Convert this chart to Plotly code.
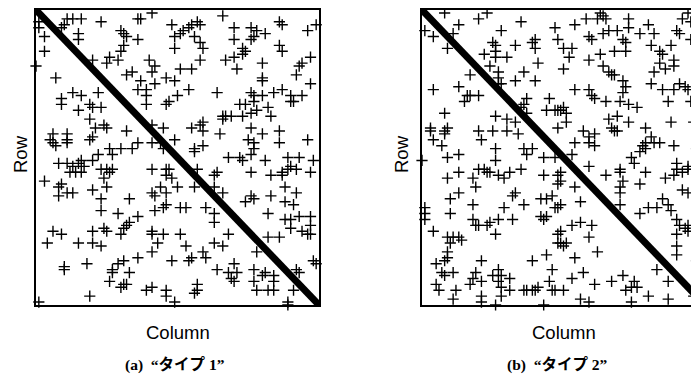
import plotly.graph_objects as go

# Matrix size (rows/columns indexed 0..N)
N = 100

# Nonzero off-diagonal entries, as (column, row)
type1_col_row = [
    (1, 6), (1, 4), (3, 9), (3, 14), (0, 19), (11, 3), (10, 5), (9, 6), (16, 3), (13, 3),
    (23, 4), (15, 8), (15, 10), (36, 3), (37, 3), (41, 1), (30, 7), (31, 8), (32, 9), (36, 10),
    (31, 12), (30, 14), (48, 5), (58, 5), (57, 4), (55, 5), (54, 6), (52, 7), (51, 8), (49, 9),
    (58, 11), (59, 13), (49, 13), (66, 2), (70, 6), (76, 6), (78, 7), (81, 8), (70, 10), (76, 10),
    (77, 9), (73, 13), (74, 14), (73, 15), (70, 16), (67, 17), (71, 20), (80, 18), (80, 23), (80, 24),
    (86, 4), (87, 5), (86, 12), (87, 14), (96, 7), (99, 5), (97, 16), (94, 18), (93, 19), (92, 22),
    (97, 25), (20, 17), (26, 16), (25, 18), (29, 17), (40, 17), (42, 19), (41, 21), (32, 22), (34, 21),
    (37, 24), (36, 27), (39, 27), (39, 29), (42, 25), (46, 23), (49, 24), (51, 20), (55, 20), (54, 27),
    (50, 29), (64, 28), (46, 32), (47, 31), (39, 32), (7, 23), (13, 28), (16, 29), (9, 30), (9, 32),
    (22, 28), (19, 32), (20, 33), (23, 33), (15, 34), (21, 40), (24, 39), (25, 40), (19, 37), (32, 41),
    (41, 39), (45, 40), (59, 38), (58, 39), (55, 40), (59, 41), (65, 42), (66, 36), (66, 37), (69, 36),
    (67, 36), (72, 32), (74, 32), (76, 35), (78, 34), (82, 33), (83, 36), (73, 36), (76, 28), (77, 29),
    (77, 31), (80, 29), (84, 28), (87, 27), (90, 29), (90, 31), (91, 31), (94, 29), (76, 40), (80, 42),
    (75, 44), (77, 45), (86, 41), (86, 45), (96, 44), (49, 44), (56, 47), (56, 48), (59, 46), (68, 50),
    (72, 50), (77, 47), (76, 49), (89, 50), (93, 50), (98, 51), (5, 44), (6, 45), (6, 42), (7, 46),
    (11, 42), (11, 44), (11, 45), (19, 44), (20, 43), (26, 47), (22, 49), (30, 47), (36, 45), (34, 47),
    (41, 45), (44, 45), (45, 47), (27, 49), (8, 52), (11, 52), (13, 53), (16, 51), (15, 52), (17, 53),
    (20, 51), (12, 55), (14, 55), (16, 55), (23, 54), (25, 54), (26, 55), (27, 54), (24, 57), (25, 60),
    (3, 58), (8, 60), (9, 59), (8, 63), (11, 62), (13, 62), (20, 61), (23, 64), (23, 68), (29, 69),
    (33, 64), (41, 54), (46, 54), (47, 54), (46, 56), (48, 57), (50, 60), (41, 62), (42, 63), (44, 60),
    (46, 62), (45, 67), (46, 66), (42, 68), (57, 54), (64, 55), (63, 56), (76, 55), (83, 56), (87, 55),
    (89, 54), (90, 53), (92, 54), (87, 56), (97, 55), (56, 60), (63, 60), (66, 62), (76, 63), (74, 65),
    (77, 64), (83, 63), (88, 60), (92, 62), (88, 65), (91, 66), (51, 67), (53, 67), (60, 67), (63, 69),
    (63, 72), (82, 69), (88, 71), (90, 71), (93, 70), (97, 70), (90, 74), (94, 75), (96, 76), (97, 73),
    (97, 76), (82, 77), (86, 77), (51, 76), (53, 80), (68, 76), (63, 79), (66, 80), (59, 82), (60, 84),
    (55, 84), (54, 85), (78, 82), (36, 70), (33, 72), (32, 73), (31, 74), (30, 76), (6, 75), (9, 76),
    (4, 79), (20, 75), (24, 74), (25, 75), (15, 79), (20, 79), (23, 80), (41, 75), (41, 76), (45, 76),
    (43, 79), (41, 82), (10, 87), (10, 88), (18, 86), (27, 88), (27, 89), (29, 86), (31, 85), (36, 84),
    (33, 89), (26, 92), (32, 93), (31, 93), (30, 94), (19, 97), (39, 95), (41, 94), (46, 95), (46, 97),
    (49, 99), (1, 99), (48, 85), (64, 88), (68, 89), (70, 86), (71, 89), (69, 91), (70, 92), (77, 88),
    (77, 92), (80, 90), (81, 89), (84, 92), (84, 90), (78, 95), (82, 95), (84, 95), (92, 88), (93, 89),
    (91, 95), (98, 85), (99, 86), (57, 93), (57, 95), (56, 96), (89, 99), (89, 100), (58, 17), (56, 9),
    (73, 51), (81, 51),
]

type2_col_row = [
    (8, 1), (1, 7), (4, 9), (9, 13), (11, 8), (13, 5), (20, 3), (23, 1), (28, 7), (35, 4),
    (47, 6), (48, 10), (25, 11), (26, 12), (26, 14), (26, 16), (22, 15), (24, 19), (30, 16), (33, 12),
    (39, 11), (40, 10), (40, 13), (41, 18), (17, 22), (13, 26), (4, 27), (16, 29), (15, 31), (17, 29),
    (20, 29), (27, 21), (27, 23), (27, 25), (28, 25), (33, 24), (36, 21), (40, 24), (37, 30), (36, 32),
    (45, 30), (44, 34), (47, 34), (48, 34), (8, 35), (3, 40), (3, 41), (4, 44), (8, 41), (8, 42),
    (9, 40), (7, 46), (20, 41), (21, 44), (25, 41), (26, 36), (30, 37), (30, 41), (33, 38), (34, 42),
    (35, 33), (37, 35), (9, 50), (13, 49), (26, 47), (36, 47), (37, 49), (39, 47), (43, 50), (63, 1),
    (64, 2), (65, 3), (62, 3), (58, 3), (54, 5), (73, 3), (73, 6), (66, 7), (69, 7), (64, 8),
    (59, 9), (60, 10), (71, 10), (72, 11), (77, 8), (80, 5), (82, 8), (90, 7), (91, 8), (95, 10),
    (92, 3), (95, 4), (94, 1), (50, 13), (53, 13), (52, 16), (50, 20), (63, 15), (59, 17), (64, 19),
    (68, 14), (72, 14), (81, 12), (84, 14), (85, 15), (88, 12), (84, 18), (86, 20), (89, 17), (89, 19),
    (66, 21), (67, 22), (68, 22), (82, 21), (71, 24), (72, 26), (71, 28), (81, 25), (85, 27), (89, 27),
    (91, 25), (93, 26), (94, 27), (54, 27), (59, 27), (60, 29), (61, 30), (65, 31), (70, 31), (73, 32),
    (76, 33), (87, 31), (95, 31), (49, 34), (50, 33), (51, 35), (51, 38), (48, 40), (66, 37), (69, 36),
    (67, 40), (68, 41), (69, 41), (73, 38), (88, 38), (96, 38), (57, 41), (59, 43), (59, 45), (61, 46),
    (61, 42), (54, 45), (53, 49), (79, 40), (81, 43), (82, 45), (84, 45), (79, 45), (78, 46), (79, 47),
    (77, 48), (89, 46), (97, 47), (74, 50), (26, 51), (47, 50), (0, 51), (9, 57), (13, 55), (18, 57),
    (19, 60), (20, 54), (22, 54), (23, 55), (24, 55), (27, 56), (29, 57), (31, 55), (35, 54), (43, 56),
    (48, 56), (48, 59), (10, 64), (13, 62), (10, 69), (18, 66), (33, 62), (32, 63), (29, 67), (36, 66),
    (42, 64), (44, 64), (46, 63), (47, 67), (48, 67), (1, 67), (1, 69), (1, 71), (18, 71), (19, 73),
    (20, 73), (23, 73), (24, 72), (27, 71), (32, 71), (26, 76), (42, 70), (43, 71), (44, 70), (4, 75),
    (9, 77), (10, 79), (11, 77), (13, 77), (14, 78), (9, 82), (48, 76), (48, 79), (5, 86), (8, 85),
    (9, 84), (7, 89), (8, 90), (11, 89), (5, 93), (6, 95), (12, 95), (11, 98), (21, 85), (19, 89),
    (18, 91), (21, 92), (17, 93), (21, 97), (21, 99), (27, 88), (28, 90), (25, 90), (27, 92), (28, 94),
    (28, 97), (31, 91), (31, 95), (26, 100), (39, 85), (44, 83), (46, 88), (45, 92), (46, 95), (36, 95),
    (37, 95), (39, 95), (40, 95), (41, 94), (47, 95), (43, 100), (75, 52), (79, 55), (59, 53), (70, 54),
    (70, 55), (71, 58), (70, 60), (70, 62), (70, 66), (65, 56), (49, 55), (49, 58), (54, 60), (56, 65),
    (49, 66), (77, 59), (86, 57), (89, 56), (90, 54), (90, 52), (92, 55), (94, 53), (94, 54), (92, 61),
    (94, 62), (85, 64), (87, 66), (88, 68), (83, 67), (80, 67), (77, 69), (90, 71), (91, 73), (93, 74),
    (94, 73), (94, 75), (90, 76), (90, 80), (90, 83), (97, 85), (49, 75), (49, 79), (51, 79), (50, 80),
    (53, 73), (56, 72), (60, 73), (59, 77), (62, 82), (54, 84), (57, 89), (53, 91), (50, 95), (61, 93),
    (67, 92), (71, 90), (72, 95), (75, 92), (76, 94), (74, 94), (83, 88), (87, 92), (87, 98), (80, 97),
    (96, 97), (56, 98), (59, 99), (74, 99),
]

diagonal = list(range(N + 1))
captions = ["(a)  “タイプ 1”", "(b)  “タイプ 2”"]
x_title = "Column"
y_title = "Row"

# The page body keeps its default 8px margin, so the figure starts at (8, 8)
OFF = 8
W, H = 699 - OFF, 378 - OFF


def px(x):
    return (x - OFF) / W


def py(y):
    return 1 - (y - OFF) / H


fig = go.Figure()

panels = [(type1_col_row, "x", "y"), (type2_col_row, "x2", "y2")]
for entries, xa, ya in panels:
    fig.add_trace(go.Scatter(
        x=diagonal, y=diagonal, mode="lines",
        line=dict(color="black", width=7),
        xaxis=xa, yaxis=ya, hoverinfo="skip", showlegend=False,
    ))
    fig.add_trace(go.Scatter(
        x=[c for c, r in entries], y=[r for c, r in entries], mode="markers",
        marker=dict(symbol="cross-thin", size=8, color="black",
                    line=dict(color="black", width=1.4)),
        cliponaxis=False, xaxis=xa, yaxis=ya, hoverinfo="skip", showlegend=False,
    ))

# page-pixel geometry of the two boxes
top, bottom = 10, 305
a_left, a_right = 36, 319
b_left = 422
box_w = a_right - a_left
b_right = b_left + box_w
ydom = [py(bottom), py(top)]
vis_right = OFF + W  # right edge of the visible figure

axis_style = dict(showgrid=False, zeroline=False, showticklabels=False, ticks="",
                  showline=True, linecolor="black", linewidth=2)

fig.update_layout(
    width=W, height=H,
    margin=dict(l=0, r=0, t=0, b=0),
    paper_bgcolor="white", plot_bgcolor="white",
    showlegend=False, hovermode=False,
    xaxis=dict(domain=[px(a_left), px(a_right)], range=[0, N], anchor="y", mirror=True, **axis_style),
    yaxis=dict(domain=ydom, range=[N, 0], anchor="x", mirror=True, **axis_style),
    xaxis2=dict(domain=[px(b_left), 1], range=[0, N * (vis_right - b_left) / box_w], anchor="y2",
                mirror=True, **axis_style),
    yaxis2=dict(domain=ydom, range=[N, 0], anchor="x2", mirror=False, **axis_style),
)

title_font = dict(family="Liberation Sans, Arial, sans-serif", size=18.5, color="black")
cap_font = dict(family="Liberation Serif, Noto Sans CJK JP, serif", size=15.5, color="black")

centers = [(a_left + a_right) / 2, (b_left + b_right) / 2]
row_x = [20, 401]
cap_x = [175, 557]
for i in range(2):
    fig.add_annotation(x=px(centers[i]), y=py(332), xref="paper", yref="paper",
                       text=x_title, showarrow=False, font=title_font,
                       xanchor="center", yanchor="middle")
    fig.add_annotation(x=px(row_x[i]), y=py(154), xref="paper", yref="paper",
                       text=y_title, showarrow=False, font=title_font, textangle=-90,
                       xanchor="center", yanchor="middle")
    fig.add_annotation(x=px(cap_x[i]), y=py(365), xref="paper", yref="paper",
                       text="<b>" + captions[i] + "</b>", showarrow=False, font=cap_font,
                       xanchor="center", yanchor="middle")

fig.write_html("out.html")
